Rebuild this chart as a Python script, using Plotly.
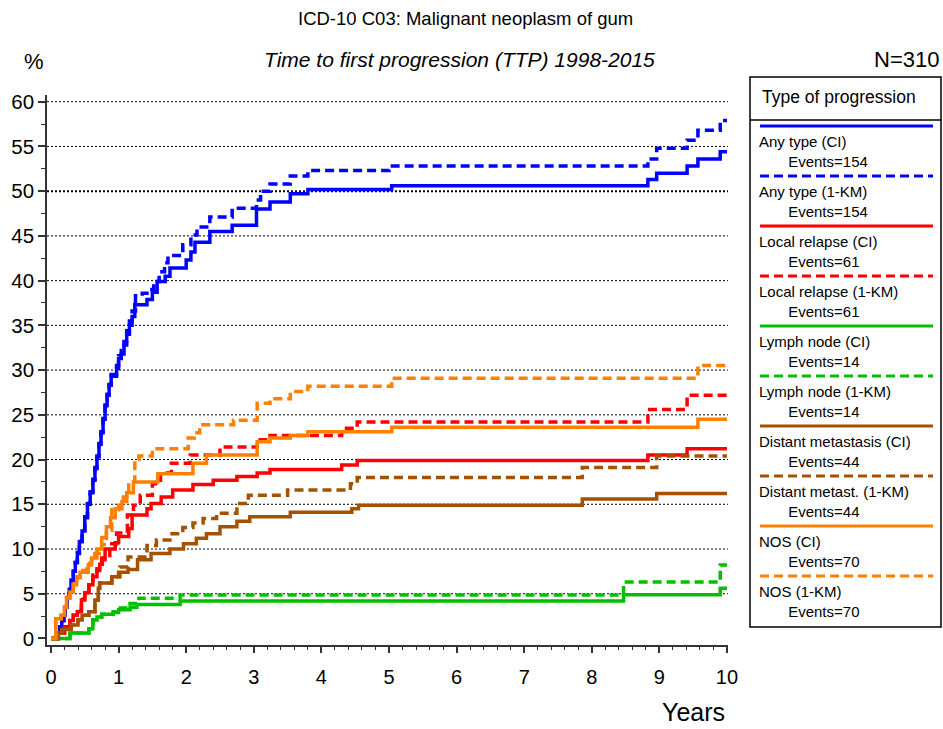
import plotly.graph_objects as go

# ---------------- data ----------------
years_ticks = [0, 1, 2, 3, 4, 5, 6, 7, 8, 9, 10]
pct_ticks = [0, 5, 10, 15, 20, 25, 30, 35, 40, 45, 50, 55, 60]
grid_levels = [5, 10, 15, 20, 25, 30, 35, 40, 45, 50, 55, 60]

# Any type, cumulative incidence
any_ci_t = [0, 0.10, 0.13, 0.16, 0.19, 0.21, 0.24, 0.27, 0.30, 0.33, 0.36, 0.39, 0.42, 0.46, 0.50,
            0.54, 0.58, 0.62, 0.65, 0.68, 0.71, 0.74, 0.77, 0.80, 0.83, 0.86, 0.89, 0.97, 1.00,
            1.04, 1.08, 1.12, 1.16, 1.20, 1.24, 1.42, 1.50, 1.57, 1.69, 1.76, 2.00, 2.07, 2.13,
            2.35, 2.68, 3.04, 3.24, 3.54, 3.80, 5.04, 8.83, 8.96, 9.41, 9.57, 9.90, 10.0]
any_ci_v = [0, 0.6, 1.3, 2.0, 2.6, 3.5, 4.5, 5.5, 6.5, 7.5, 8.5, 9.5, 10.8, 12.0, 13.5,
            15.0, 16.3, 17.7, 19.0, 20.3, 21.7, 23.0, 24.5, 26.0, 27.2, 28.3, 29.3, 30.2, 31.3,
            31.8, 32.8, 34.0, 35.0, 36.0, 37.3, 37.9, 38.7, 39.9, 40.5, 41.4, 42.3, 43.2, 44.3,
            45.5, 46.2, 48.0, 48.8, 49.7, 50.2, 50.6, 51.3, 52.0, 52.8, 53.6, 54.4, 54.4]

# Any type, 1-KM
any_km_t = [0, 0.10, 0.13, 0.16, 0.19, 0.21, 0.24, 0.27, 0.30, 0.33, 0.36, 0.39, 0.42, 0.46, 0.50,
            0.54, 0.58, 0.62, 0.65, 0.68, 0.71, 0.74, 0.77, 0.80, 0.83, 0.86, 0.89, 0.97, 1.00,
            1.04, 1.08, 1.12, 1.16, 1.20, 1.25, 1.35, 1.45, 1.52, 1.60, 1.68, 1.73, 1.95, 2.07,
            2.16, 2.35, 2.68, 3.04, 3.10, 3.24, 3.54, 3.80, 5.00, 8.83, 8.96, 9.41, 9.57, 9.90, 10.0]
any_km_v = [0, 0.6, 1.3, 2.0, 2.6, 3.5, 4.5, 5.5, 6.5, 7.5, 8.5, 9.6, 10.9, 12.1, 13.6,
            15.1, 16.4, 17.8, 19.1, 20.4, 21.8, 23.1, 24.6, 26.1, 27.3, 28.4, 29.5, 30.5, 31.6,
            32.2, 33.2, 34.4, 35.5, 36.6, 38.3, 38.6, 39.0, 39.9, 41.0, 42.0, 42.8, 44.0, 45.1,
            46.0, 47.1, 48.1, 49.0, 50.0, 50.8, 51.7, 52.3, 52.8, 53.6, 54.8, 55.7, 56.8, 57.9, 57.9]

# Local relapse
loc_ci_t = [0, 0.11, 0.20, 0.28, 0.33, 0.39, 0.45, 0.50, 0.56, 0.62, 0.68, 0.72, 0.76, 0.80, 0.95,
            1.00, 1.15, 1.20, 1.42, 1.48, 1.63, 1.80, 2.10, 2.40, 2.75, 3.05, 3.24, 4.30, 4.53,
            8.83, 9.41, 10.0]
loc_ci_v = [0, 0.6, 1.3, 2.0, 2.6, 3.0, 4.3, 5.1, 6.0, 6.9, 7.6, 8.3, 8.8, 10.0, 10.7,
            11.4, 12.3, 13.8, 14.5, 15.1, 15.8, 16.6, 17.2, 17.7, 18.1, 18.5, 18.9, 19.4, 19.9,
            20.5, 21.2, 21.2]
loc_km_t = [0, 0.11, 0.20, 0.28, 0.33, 0.39, 0.45, 0.50, 0.56, 0.62, 0.68, 0.72, 0.75, 0.87, 0.97,
            1.13, 1.22, 1.32, 1.50, 1.62, 1.78, 2.06, 2.50, 3.05, 3.24, 4.30, 4.53, 8.83, 9.41, 10.0]
loc_km_v = [0, 0.6, 1.3, 2.0, 2.6, 3.1, 4.4, 5.2, 6.2, 7.1, 7.8, 8.4, 9.0, 10.6, 11.8,
            13.8, 14.9, 16.0, 17.3, 18.5, 19.6, 20.5, 21.4, 22.2, 22.7, 23.5, 24.2, 25.6, 27.2, 27.2]

# Lymph node
lym_ci_t = [0, 0.28, 0.56, 0.62, 0.68, 0.75, 0.92, 1.00, 1.17, 1.27, 1.91, 8.47, 9.90, 10.0]
lym_ci_v = [0, 0.6, 1.1, 2.1, 2.4, 2.7, 2.9, 3.2, 3.5, 3.8, 4.2, 4.9, 5.6, 5.6]
lym_km_t = [0, 0.28, 0.56, 0.62, 0.68, 0.75, 0.92, 0.97, 1.17, 1.30, 1.91, 8.47, 9.90, 10.0]
lym_km_v = [0, 0.6, 1.1, 2.1, 2.4, 2.7, 3.0, 3.4, 3.9, 4.5, 4.85, 6.3, 8.2, 8.2]

# Distant metastasis
dis_ci_t = [0, 0.11, 0.16, 0.30, 0.40, 0.46, 0.56, 0.65, 0.70, 0.72, 0.90, 1.00, 1.14, 1.28, 1.48,
            1.76, 1.96, 2.15, 2.30, 2.50, 2.75, 2.94, 3.54, 4.45, 4.55, 7.86, 8.96, 10.0]
dis_ci_v = [0, 0.6, 1.0, 1.5, 2.1, 2.6, 3.0, 4.3, 5.6, 6.2, 6.9, 7.4, 7.7, 8.8, 9.5,
            10.0, 10.6, 11.2, 11.7, 12.5, 13.1, 13.6, 14.1, 14.5, 14.9, 15.6, 16.2, 16.2]
dis_km_t = [0, 0.11, 0.16, 0.30, 0.40, 0.46, 0.56, 0.65, 0.70, 0.72, 0.90, 1.02, 1.14, 1.42, 1.56,
            1.76, 1.95, 2.10, 2.25, 2.45, 2.75, 2.92, 3.50, 4.43, 4.53, 7.86, 8.96, 10.0]
dis_km_v = [0, 0.6, 1.0, 1.5, 2.1, 2.6, 3.0, 4.3, 5.6, 6.2, 6.9, 8.0, 9.1, 10.4, 11.0,
            11.7, 12.4, 12.9, 13.4, 14.0, 15.1, 16.0, 16.6, 17.3, 18.0, 19.1, 20.4, 20.4]

# NOS
nos_ci_t = [0, 0.07, 0.15, 0.20, 0.23, 0.28, 0.33, 0.38, 0.43, 0.55, 0.60, 0.68, 0.75, 0.82, 0.88,
            0.95, 1.05, 1.12, 1.22, 1.58, 2.10, 2.30, 3.05, 3.24, 3.54, 3.80, 5.04, 9.57, 10.0]
nos_ci_v = [0, 2.2, 2.6, 3.5, 4.5, 5.2, 6.0, 6.8, 7.4, 8.2, 9.0, 10.0, 11.3, 12.5, 13.5,
            14.5, 15.3, 16.3, 17.5, 18.4, 19.6, 20.5, 22.0, 22.4, 22.7, 23.1, 23.6, 24.5, 24.5]
nos_km_t = [0, 0.07, 0.15, 0.20, 0.23, 0.28, 0.33, 0.38, 0.43, 0.53, 0.60, 0.65, 0.75, 0.82, 0.90,
            1.00, 1.07, 1.15, 1.24, 1.30, 1.50, 2.03, 2.12, 2.20, 2.70, 3.05, 3.24, 3.54, 3.80,
            5.04, 9.57, 10.0]
nos_km_v = [0, 2.2, 2.6, 3.5, 4.6, 5.3, 6.1, 6.9, 7.6, 8.4, 8.8, 9.5, 10.5, 12.1, 14.4,
            14.9, 15.8, 17.5, 20.0, 20.4, 21.2, 22.4, 23.0, 23.9, 24.4, 26.3, 26.8, 27.6, 28.2,
            29.1, 30.5, 30.5]

series_names = ["Any type (CI)", "Any type (1-KM)", "Local relapse (CI)", "Local relapse (1-KM)",
                "Lymph node (CI)", "Lymph node (1-KM)", "Distant metastasis (CI)",
                "Distant metast. (1-KM)", "NOS (CI)", "NOS (1-KM)"]
series_events = [154, 154, 61, 61, 14, 14, 44, 44, 70, 70]
series_t = [any_ci_t, any_km_t, loc_ci_t, loc_km_t, lym_ci_t, lym_km_t,
            dis_ci_t, dis_km_t, nos_ci_t, nos_km_t]
series_v = [any_ci_v, any_km_v, loc_ci_v, loc_km_v, lym_ci_v, lym_km_v,
            dis_ci_v, dis_km_v, nos_ci_v, nos_km_v]

# ---------------- styling ----------------
BLUE, RED, GREEN, BROWN, ORANGE = "#0000FF", "#FF0000", "#00C000", "#A45200", "#FF8000"
series_colors = [BLUE, BLUE, RED, RED, GREEN, GREEN, BROWN, BROWN, ORANGE, ORANGE]
DASHED = "9px,5px"
series_dash = ["solid", DASHED] * 5
FONT = "Liberation Sans, Arial, sans-serif"
AXIS_COLOR = "#333333"
INDENT = "\u00a0" * 7   # hanging indent for the event count line

FIG_W, FIG_H = 943, 729
PLOT_L, PLOT_R, PLOT_T, PLOT_B = 47, 728, 95, 645


def px(x):
    """Pixel column -> paper x."""
    return (x - PLOT_L) / (PLOT_R - PLOT_L)


def py(y):
    """Pixel row -> paper y."""
    return (PLOT_B - y) / (PLOT_B - PLOT_T)


fig = go.Figure()

# dotted horizontal grid (the 50 % line drawn heavier)
shapes = []
for g in grid_levels:
    shapes.append(dict(type="line", xref="paper", yref="y", x0=0, x1=1, y0=g, y1=g,
                       line=dict(color="black", width=2 if g == 50 else 1, dash="2px,2px"),
                       layer="below"))

for name, t, v, col, dsh in zip(series_names, series_t, series_v, series_colors, series_dash):
    fig.add_trace(go.Scatter(x=t, y=v, mode="lines", name=name, showlegend=False,
                             line=dict(color=col, width=3.5, dash=dsh, shape="hv"),
                             hoverinfo="skip"))

# legend box drawn by hand: sample line above the label, events indented below
LEG_L, LEG_R, LEG_T, LEG_B, LEG_HEAD = 750, 941, 77, 627, 120
shapes.append(dict(type="rect", xref="paper", yref="paper",
                   x0=px(LEG_L), x1=px(LEG_R), y0=py(LEG_B), y1=py(LEG_T),
                   line=dict(color="black", width=1.5), fillcolor="rgba(0,0,0,0)"))
shapes.append(dict(type="line", xref="paper", yref="paper",
                   x0=px(LEG_L), x1=px(LEG_R), y0=py(LEG_HEAD), y1=py(LEG_HEAD),
                   line=dict(color="black", width=1.5)))

annotations = [
    dict(text="Type of progression", x=px(760), y=py(97), xanchor="left", yanchor="middle",
         font=dict(size=17.5)),
]
for i, (name, ev, col, dsh) in enumerate(zip(series_names, series_events,
                                              series_colors, series_dash)):
    y_line = 126 + 50 * i
    shapes.append(dict(type="line", xref="paper", yref="paper",
                       x0=px(760), x1=px(933), y0=py(y_line), y1=py(y_line),
                       line=dict(color=col, width=3, dash=dsh)))
    annotations.append(dict(text=f"{name}<br>{INDENT}Events={ev}", x=px(757),
                            y=py(y_line + 5), xanchor="left", yanchor="top", align="left",
                            font=dict(size=15)))

annotations += [
    dict(text="ICD-10 C03: Malignant neoplasm of gum", x=px(465), y=py(18),
         xanchor="center", yanchor="middle", font=dict(size=18.5)),
    dict(text="<i>Time to first progression (TTP) 1998-2015</i>", x=px(459), y=py(59),
         xanchor="center", yanchor="middle", font=dict(size=21)),
    dict(text="%", x=px(34), y=py(62), xanchor="center", yanchor="middle",
         font=dict(size=22)),
    dict(text="N=310", x=px(941), y=py(59), xanchor="right", yanchor="middle",
         font=dict(size=22)),
    dict(text="Years", x=px(693), y=py(712), xanchor="center", yanchor="middle",
         font=dict(size=25)),
]
for a in annotations:
    a.update(xref="paper", yref="paper", showarrow=False)

fig.update_layout(
    width=FIG_W, height=FIG_H,
    margin=dict(l=PLOT_L, r=FIG_W - PLOT_R, t=PLOT_T, b=FIG_H - PLOT_B, pad=0),
    paper_bgcolor="white", plot_bgcolor="white",
    font=dict(family=FONT, color="black"),
    shapes=shapes, annotations=annotations,
    xaxis=dict(range=[-0.059, 10.015], tickvals=years_ticks, ticks="outside", ticklen=6,
               tickwidth=1.5, tickcolor=AXIS_COLOR, showline=True, linecolor=AXIS_COLOR,
               linewidth=1.5, showgrid=False, zeroline=False, tickfont=dict(size=20),
               ticklabelstandoff=7,
               minor=dict(ticks="outside", dtick=0.2, tick0=0, ticklen=3, tickwidth=1,
                          tickcolor=AXIS_COLOR, showgrid=False)),
    yaxis=dict(range=[-0.73, 60.75], tickvals=pct_ticks, ticks="outside", ticklen=7,
               tickwidth=1.5, tickcolor=AXIS_COLOR, showline=True, linecolor=AXIS_COLOR,
               linewidth=1.5, showgrid=False, zeroline=False, tickfont=dict(size=20.5),
               minor=dict(ticks="outside", dtick=2.5, tick0=0, ticklen=4, tickwidth=1,
                          tickcolor=AXIS_COLOR, showgrid=False)),
)

fig.write_html("out.html")
